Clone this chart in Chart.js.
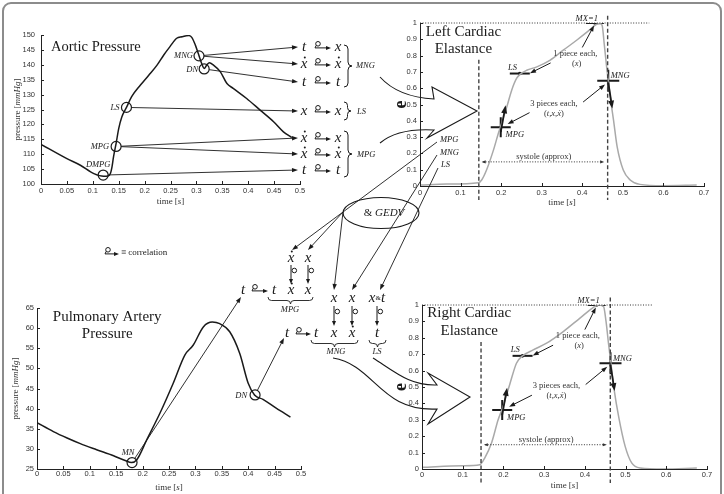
<!DOCTYPE html>
<html>
<head>
<script src="https://cdn.jsdelivr.net/npm/chart.js"></script>
<style>
  html, body { margin: 0; padding: 0; background: #fff; }
  #page { position: relative; width: 724px; height: 494px; overflow: hidden; }
  #page canvas { position: absolute; }
  #frame {
    position: absolute; left: 2px; top: 2px; width: 720px; height: 520px;
    border: 2px solid #8c8c8c; border-radius: 9px; box-sizing: border-box;
  }
</style>
</head>
<body>
<div id="page">
  <div id="frame"></div>
  <canvas id="aortic" width="320" height="200" style="left:0px;top:20px"></canvas>
  <canvas id="pulm" width="320" height="204" style="left:0px;top:290px"></canvas>
  <canvas id="leftEl" width="340" height="215" style="left:380px;top:5px"></canvas>
  <canvas id="rightEl" width="340" height="209" style="left:380px;top:285px"></canvas>
  <canvas id="overlay" width="724" height="494" style="left:0px;top:0px"></canvas>
</div>
<script>
// ---------- data ----------
const aorticTime = [0, 0.05, 0.076, 0.102, 0.121, 0.129, 0.134, 0.137, 0.14, 0.145, 0.15, 0.156, 0.165,
  0.175, 0.192, 0.208, 0.224, 0.237, 0.249, 0.262, 0.272, 0.285, 0.291, 0.298, 0.304, 0.31, 0.315,
  0.32, 0.325, 0.333, 0.346, 0.359, 0.371, 0.397, 0.423, 0.449, 0.468, 0.484];
const aorticPressure = [113.3, 108.5, 106.3, 103.5, 102.6, 102.7, 103.5, 105.7, 109.1, 113.6, 118.6, 122.5, 125.7,
  129.3, 133.2, 136.5, 139.9, 143.3, 146.1, 148.9, 149.4, 149.8, 149.2, 146.6, 143.6, 140.5, 138.8,
  139.9, 140.7, 139.9, 137.7, 133.7, 132.1, 128.7, 124.8, 120.9, 117.5, 115.6];

const pulmTime = [0, 0.031, 0.057, 0.082, 0.113, 0.145, 0.167, 0.179, 0.189, 0.208, 0.233, 0.258, 0.28,
  0.296, 0.315, 0.332, 0.346, 0.365, 0.384, 0.4, 0.412, 0.428, 0.453, 0.48];
const pulmPressure = [36.5, 34.3, 32.7, 31.3, 29.8, 28.3, 27.1, 26.6, 27.3, 32.3, 38.9, 46.3, 53.3,
  55.8, 60.3, 61.5, 61.1, 59.1, 53.7, 46.3, 43.4, 42.3, 40.1, 37.9];

const leftElTime = [0, 0.066, 0.144, 0.152, 0.164, 0.181, 0.193, 0.201, 0.214, 0.226, 0.238, 0.247, 0.263,
  0.288, 0.32, 0.353, 0.386, 0.419, 0.435, 0.444, 0.449, 0.454, 0.46, 0.464, 0.47, 0.477, 0.486,
  0.501, 0.518, 0.542, 0.6, 0.682];
const leftElastance = [0.006, 0.012, 0.02, 0.037, 0.098, 0.22, 0.322, 0.384, 0.486, 0.588, 0.66, 0.686, 0.71,
  0.731, 0.771, 0.833, 0.894, 0.959, 0.992, 0.996, 0.985, 0.873, 0.73, 0.65, 0.527, 0.404, 0.24,
  0.098, 0.037, 0.01, 0.002, 0.006];

const rightElTime = [0, 0.1, 0.142, 0.154, 0.171, 0.187, 0.199, 0.216, 0.232, 0.247, 0.273, 0.306, 0.347,
  0.388, 0.421, 0.433, 0.446, 0.452, 0.458, 0.464, 0.472, 0.483, 0.499, 0.515, 0.536, 0.593, 0.675];
const rightElastance = [0.01, 0.02, 0.026, 0.067, 0.16, 0.3, 0.38, 0.52, 0.645, 0.69, 0.726, 0.767, 0.838,
  0.92, 0.986, 1.0, 0.99, 0.9, 0.767, 0.645, 0.483, 0.32, 0.138, 0.037, 0.006, 0.0, 0.006];

const pressureTimeTicks = [0, 0.05, 0.1, 0.15, 0.2, 0.25, 0.3, 0.35, 0.4, 0.45, 0.5];
const aorticTicks = [100, 105, 110, 115, 120, 125, 130, 135, 140, 145, 150];
const pulmTicks = [25, 30, 35, 40, 45, 50, 55, 60, 65];
const elTimeTicks = [0, 0.1, 0.2, 0.3, 0.4, 0.5, 0.6, 0.7];
const elTicks = [0, 0.1, 0.2, 0.3, 0.4, 0.5, 0.6, 0.7, 0.8, 0.9, 1];

// feature points on the curves
const aorticPtLabels = ['MNG', 'DN', 'LS', 'MPG', 'DMPG'];
const aorticPtTime = [0.305, 0.315, 0.165, 0.145, 0.12];
const aorticPtValue = [143, 138.6, 125.7, 112.6, 103];
const pulmPtLabels = ['MN', 'DN'];
const pulmPtTime = [0.18, 0.413];
const pulmPtValue = [26.6, 43.4];
const elPtLabels = ['MPG', 'LS', 'MX=1', 'MNG'];
const leftElPtTime = [0.199, 0.246, 0.431, 0.464];
const leftElPtValue = [0.36, 0.69, 1, 0.645];
const rightElPtTime = [0.197, 0.247, 0.429, 0.463];
const rightElPtValue = [0.36, 0.69, 1, 0.645];

// ---------- helpers ----------
const SERIF = '"Liberation Serif", "DejaVu Serif", serif';
const SANS = '"Liberation Sans", Arial, sans-serif';
const INK = '#1a1a1a';

function pts(xs, ys) { return xs.map((x, i) => ({ x: x, y: ys[i] })); }

function rich(ctx, parts, x, y, align) {
  let w = 0;
  parts.forEach(p => { ctx.font = p[1]; w += ctx.measureText(p[0]).width; });
  let cx = align === 'center' ? x - w / 2 : (align === 'right' ? x - w : x);
  ctx.textAlign = 'left';
  ctx.textBaseline = 'middle';
  parts.forEach(p => { ctx.font = p[1]; ctx.fillText(p[0], cx, y); cx += ctx.measureText(p[0]).width; });
}

function head(ctx, x, y, ang, len, w) {
  len = len || 6; w = w || 2.4;
  ctx.beginPath();
  ctx.moveTo(x, y);
  ctx.lineTo(x - len * Math.cos(ang) + w * Math.sin(ang), y - len * Math.sin(ang) - w * Math.cos(ang));
  ctx.lineTo(x - len * Math.cos(ang) - w * Math.sin(ang), y - len * Math.sin(ang) + w * Math.cos(ang));
  ctx.closePath();
  ctx.fill();
}

function arrow(ctx, x1, y1, x2, y2, lw, len, w) {
  const ang = Math.atan2(y2 - y1, x2 - x1);
  len = len || 6;
  ctx.lineWidth = lw || 0.9;
  ctx.beginPath();
  ctx.moveTo(x1, y1);
  ctx.lineTo(x2 - (len - 1) * Math.cos(ang), y2 - (len - 1) * Math.sin(ang));
  ctx.stroke();
  head(ctx, x2, y2, ang, len, w);
}

function axis(min, max, ticks, size, pad, isX) {
  return {
    type: 'linear', min: min, max: max,
    grid: { display: false, drawTicks: false },
    border: { display: true, color: '#222', width: 1 },
    ticks: {
      color: '#333', font: { family: SANS, size: 7.5 }, padding: pad,
      autoSkip: false, maxRotation: 0, callback: v => String(v)
    },
    afterBuildTicks: s => { s.ticks = ticks.map(v => ({ value: v })); },
    afterFit: s => { if (isX) s.height = size; else s.width = size; }
  };
}

// inward MATLAB style tick marks
const inwardTicks = {
  id: 'inwardTicks',
  afterDraw(chart) {
    const { ctx, chartArea: a, scales: { x, y } } = chart;
    ctx.save();
    ctx.strokeStyle = '#222';
    ctx.lineWidth = 1;
    ctx.beginPath();
    x.ticks.forEach(t => {
      const p = Math.round(x.getPixelForValue(t.value)) + 0.5;
      ctx.moveTo(p, a.bottom); ctx.lineTo(p, a.bottom - 3);
    });
    y.ticks.forEach(t => {
      const p = Math.round(y.getPixelForValue(t.value)) + 0.5;
      ctx.moveTo(a.left, p); ctx.lineTo(a.left + 3, p);
    });
    ctx.stroke();
    ctx.restore();
  }
};

function axisTitles(xOff, yTitle, yX) {
  return {
    id: 'axisTitles',
    afterDraw(chart) {
      const { ctx, chartArea: a } = chart;
      ctx.save();
      ctx.fillStyle = '#333';
      rich(ctx, [['time [', '9px ' + SERIF], ['s', 'italic 9px ' + SERIF], [']', '9px ' + SERIF]],
        (a.left + a.right) / 2, a.bottom + xOff, 'center');
      ctx.translate(yX, (a.top + a.bottom) / 2);
      ctx.rotate(-Math.PI / 2);
      if (yTitle === 'e') {
        ctx.fillStyle = INK;
        rich(ctx, [['e', 'bold 18px ' + SERIF]], 0, 0, 'center');
      } else {
        rich(ctx, [['pressure [', '9px ' + SERIF], ['mmHg', 'italic 9px ' + SERIF], [']', '9px ' + SERIF]], 0, 0, 'center');
      }
      ctx.restore();
    }
  };
}

function chartTitle(lines, tx, ty, size) {
  return {
    id: 'chartTitle',
    afterDraw(chart) {
      const { ctx, scales: { x, y } } = chart;
      ctx.save();
      ctx.fillStyle = INK;
      lines.forEach((l, i) => rich(ctx, [[l, size + 'px ' + SERIF]], x.getPixelForValue(tx), y.getPixelForValue(ty) + i * 17.5, 'center'));
      ctx.restore();
    }
  };
}

// annotations inside the elastance panels
function elastanceDecor(pt, pv) {
  return {
    id: 'elDecor',
    afterDatasetsDraw(chart) {
      const { ctx, chartArea: a, scales: { x, y } } = chart;
      const X = v => x.getPixelForValue(v), Y = v => y.getPixelForValue(v);
      ctx.save();
      ctx.strokeStyle = '#333';
      ctx.fillStyle = '#333';
      // dotted level at 1
      ctx.setLineDash([1, 1.6]);
      ctx.lineWidth = 1;
      ctx.beginPath(); ctx.moveTo(X(0), Y(1)); ctx.lineTo(X(0.565), Y(1)); ctx.stroke();
      // systole span
      const ys = Y(0.148);
      ctx.beginPath(); ctx.moveTo(X(0.155), ys); ctx.lineTo(X(0.45), ys); ctx.stroke();
      ctx.setLineDash([]);
      head(ctx, X(0.152), ys, Math.PI, 4, 1.6);
      head(ctx, X(0.454), ys, 0, 4, 1.6);
      rich(ctx, [['systole (approx)', '8.5px ' + SERIF]], X(0.305), Y(0.178), 'center');
      // dashed systole bounds
      ctx.setLineDash([4, 2.5]);
      ctx.lineWidth = 1.4;
      ctx.strokeStyle = '#444';
      ctx.beginPath();
      ctx.moveTo(X(0.145), Y(0.775)); ctx.lineTo(X(0.145), a.bottom + 14);
      ctx.moveTo(X(0.4625), Y(1.045)); ctx.lineTo(X(0.4625), a.bottom + 14);
      ctx.stroke();
      ctx.setLineDash([]);
      ctx.strokeStyle = INK;
      ctx.fillStyle = INK;
      // bold direction arrows
      arrow(ctx, X(pt[0]), Y(pv[0] - 0.03), X(pt[0] + 0.012), Y(pv[0] + 0.135), 1.8, 8, 3);
      arrow(ctx, X(pt[3]), Y(pv[3] - 0.01), X(pt[3] + 0.01), Y(pv[3] - 0.17), 1.8, 8, 3);
      // labels
      const lab = 'italic 8.5px ' + SERIF;
      rich(ctx, [[elPtLabels[0], lab]], X(pt[0] + 0.012), Y(pv[0] - 0.045), 'left');
      rich(ctx, [[elPtLabels[1], lab]], X(pt[1] - 0.018), Y(pv[1] + 0.035), 'center');
      rich(ctx, [[elPtLabels[2], lab]], X(pt[2] - 0.02), Y(pv[2] + 0.028), 'center');
      rich(ctx, [[elPtLabels[3], lab]], X(pt[3] + 0.006), Y(pv[3] + 0.03), 'left');
      // comments
      ctx.fillStyle = '#333';
      rich(ctx, [['1 piece each,', '8.5px ' + SERIF]], X(0.383), Y(0.81), 'center');
      rich(ctx, [['(', '8.5px ' + SERIF], ['x', lab], [')', '8.5px ' + SERIF]], X(0.386), Y(0.75), 'center');
      rich(ctx, [['3 pieces each,', '8.5px ' + SERIF]], X(0.33), Y(0.506), 'center');
      rich(ctx, [['(', '8.5px ' + SERIF], ['t', lab], [',', '8.5px ' + SERIF], ['x', lab], [',', '8.5px ' + SERIF], ['\u1E8B', lab], [')', '8.5px ' + SERIF]], X(0.33), Y(0.445), 'center');
      ctx.fillStyle = INK;
      arrow(ctx, X(0.4), Y(0.85), X(pt[2] - 0.002), Y(0.985), 1, 6, 2.2);
      arrow(ctx, X(0.322), Y(0.755), X(pt[1] + 0.025), Y(pv[1] + 0.002), 1, 6, 2.2);
      arrow(ctx, X(0.27), Y(0.45), X(pt[0] + 0.017), Y(pv[0] + 0.02), 1, 6, 2.2);
      arrow(ctx, X(0.402), Y(0.515), X(pt[3] - 0.008), Y(pv[3] - 0.022), 1, 6, 2.2);
      ctx.restore();
    }
  };
}

function baseOptions(xAx, yAx, pad) {
  return {
    responsive: false, animation: false, events: [],
    layout: { padding: pad },
    plugins: { legend: { display: false }, tooltip: { enabled: false } },
    scales: { x: xAx, y: yAx }
  };
}

// ---------- charts ----------
const aorticChart = new Chart(document.getElementById('aortic'), {
  type: 'line',
  data: {
    datasets: [
      { data: pts(aorticTime, aorticPressure), borderColor: INK, borderWidth: 1.5, pointRadius: 0, cubicInterpolationMode: 'monotone' },
      { data: pts(aorticPtTime, aorticPtValue), showLine: false, pointRadius: 5, pointBorderWidth: 1.2,
        pointBorderColor: INK, pointBackgroundColor: 'rgba(0,0,0,0)' }
    ]
  },
  options: baseOptions(axis(0, 0.5, pressureTimeTicks, 30, 2.5, true), axis(100, 150, aorticTicks, 37, 6, false),
    { left: 4, right: 20, top: 15, bottom: 6 }),
  plugins: [inwardTicks, axisTitles(18, 'p', 18), chartTitle(['Aortic Pressure'], 0.106, 146, 14.5)]
});

const pulmChart = new Chart(document.getElementById('pulm'), {
  type: 'line',
  data: {
    datasets: [
      { data: pts(pulmTime, pulmPressure), borderColor: INK, borderWidth: 1.5, pointRadius: 0, cubicInterpolationMode: 'monotone' },
      { data: pts(pulmPtTime, pulmPtValue), showLine: false, pointRadius: 5, pointBorderWidth: 1.2,
        pointBorderColor: INK, pointBackgroundColor: 'rgba(0,0,0,0)' }
    ]
  },
  options: baseOptions(axis(0, 0.5, pressureTimeTicks, 25, 0, true), axis(25, 65, pulmTicks, 34, 3, false),
    { left: 3, right: 19, top: 18, bottom: 0 }),
  plugins: [inwardTicks, axisTitles(19, 'p', 16), chartTitle(['Pulmonary Artery', 'Pressure'], 0.133, 62.8, 15)]
});

function elastanceChart(id, t, e, pt, pv, pad, xh, pad2, title, tx, ty) {
  return new Chart(document.getElementById(id), {
    type: 'line',
    data: {
      datasets: [
        { data: pts(t, e), borderColor: '#a9a9a9', borderWidth: 1.5, pointRadius: 0, cubicInterpolationMode: 'monotone' },
        { data: pts(pt, pv), showLine: false, pointStyle: ['cross', 'line', 'line', 'cross'], pointRadius: [10, 10, 9, 11],
          pointBorderWidth: 2, pointBorderColor: INK, pointBackgroundColor: INK },
        { data: pts(pt.slice(1, 3), pv.slice(1, 3)), showLine: false, pointRadius: 1.8, pointBorderWidth: 0, pointBackgroundColor: INK }
      ]
    },
    options: baseOptions(axis(0, 0.7, elTimeTicks, xh, pad2, true), axis(0, 1, elTicks, 30, 3, false), pad),
    plugins: [inwardTicks, elastanceDecor(pt, pv), axisTitles(17, 'e', 21), chartTitle(title, tx, ty, 15)]
  });
}

const leftChart = elastanceChart('leftEl', leftElTime, leftElastance, leftElPtTime, leftElPtValue,
  { left: 10, right: 16, top: 18, bottom: 0 }, 34, 2.5, ['Left Cardiac', 'Elastance'], 0.107, 0.945);
const rightChart = elastanceChart('rightEl', rightElTime, rightElastance, rightElPtTime, rightElPtValue,
  { left: 12, right: 13, top: 20, bottom: 0 }, 25, 1, ['Right Cardiac', 'Elastance'], 0.116, 0.95);

// ---------- connecting diagram ----------
function at(chart, t, v) {
  const c = chart.canvas;
  return [c.offsetLeft + chart.scales.x.getPixelForValue(t), c.offsetTop + chart.scales.y.getPixelForValue(v)];
}

const MATH = 'italic 15px ' + SERIF;
function sym(ctx, s, x, y) {
  ctx.font = MATH;
  ctx.textAlign = 'center';
  ctx.textBaseline = 'middle';
  ctx.fillText(s === 'xd' ? 'x' : s, x, y);
  if (s === 'xd') { ctx.beginPath(); ctx.arc(x + 0.8, y - 6.5, 1, 0, 2 * Math.PI); ctx.fill(); }
}
function hglyph(ctx, x1, x2, y) {
  ctx.lineWidth = 1;
  ctx.beginPath(); ctx.arc(x1 + 4, y - 3.2, 2.3, 0, 2 * Math.PI); ctx.stroke();
  ctx.beginPath(); ctx.moveTo(x1 + 2.2, y - 1.6); ctx.lineTo(x1 + 1, y + 0.9); ctx.lineTo(x2 - 4, y + 0.9); ctx.stroke();
  head(ctx, x2, y + 0.9, 0, 5, 2);
}
function vglyph(ctx, x, y1, y2) {
  ctx.lineWidth = 1;
  ctx.beginPath(); ctx.moveTo(x, y1); ctx.lineTo(x, y2 - 4); ctx.stroke();
  head(ctx, x, y2, Math.PI / 2, 5, 2);
  ctx.beginPath(); ctx.arc(x + 3.3, y1 + 5.5, 2.3, 0, 2 * Math.PI); ctx.stroke();
}
function hbrace(ctx, x1, x2, y, d) {
  const m = (x1 + x2) / 2, h = d / 2;
  ctx.lineWidth = 0.9;
  ctx.beginPath();
  ctx.moveTo(x1, y);
  ctx.quadraticCurveTo(x1, y + h, x1 + h, y + h);
  ctx.lineTo(m - h, y + h);
  ctx.quadraticCurveTo(m, y + h, m, y + d);
  ctx.quadraticCurveTo(m, y + h, m + h, y + h);
  ctx.lineTo(x2 - h, y + h);
  ctx.quadraticCurveTo(x2, y + h, x2, y);
  ctx.stroke();
}
function vbrace(ctx, x, y1, y2, d) {
  const m = (y1 + y2) / 2, h = d / 2;
  ctx.lineWidth = 1;
  ctx.beginPath();
  ctx.moveTo(x, y1);
  ctx.quadraticCurveTo(x + h, y1, x + h, y1 + h);
  ctx.lineTo(x + h, m - h);
  ctx.quadraticCurveTo(x + h, m, x + d, m);
  ctx.quadraticCurveTo(x + h, m, x + h, m + h);
  ctx.lineTo(x + h, y2 - h);
  ctx.quadraticCurveTo(x + h, y2, x, y2);
  ctx.stroke();
}

function drawOverlay() {
  const ctx = document.getElementById('overlay').getContext('2d');
  ctx.strokeStyle = INK;
  ctx.fillStyle = INK;
  const small = 'italic 8.5px ' + SERIF;

  // aortic point labels
  const A = aorticPtTime.map((t, i) => at(aorticChart, t, aorticPtValue[i]));
  rich(ctx, [['MNG', small]], A[0][0] - 6, A[0][1], 'right');
  rich(ctx, [['DN', small]], A[1][0] - 6, A[1][1] + 1, 'right');
  rich(ctx, [['LS', small]], A[2][0] - 7, A[2][1], 'right');
  rich(ctx, [['MPG', small]], A[3][0] - 7, A[3][1], 'right');
  rich(ctx, [['DMPG', small]], A[4][0] - 5, A[4][1] - 10, 'center');

  // correlation rows
  const rows = [['t', 'x'], ['xd', 'xd'], ['t', 't'], ['x', 'x'], ['xd', 'x'], ['xd', 'xd'], ['t', 't']];
  const rowY = [47, 64, 82, 111, 138, 154, 170];
  const rowSrc = [0, 0, 1, 2, 3, 3, 4];
  rows.forEach((r, i) => {
    const y = rowY[i];
    const c = A[rowSrc[i]];
    const ang = Math.atan2(y - c[1], 298 - c[0]);
    arrow(ctx, c[0] + 5 * Math.cos(ang), c[1] + 5 * Math.sin(ang), 298, y, 0.9, 6, 2.2);
    sym(ctx, r[0], 304, y);
    hglyph(ctx, 314, 331, y);
    sym(ctx, r[1], 338, y);
  });
  vbrace(ctx, 344, 45, 87, 8);
  vbrace(ctx, 344, 102, 120, 7);
  vbrace(ctx, 344, 131, 177, 8);
  rich(ctx, [['MNG', small]], 356, 66, 'left');
  rich(ctx, [['LS', small]], 357, 112, 'left');
  rich(ctx, [['MPG', small]], 357, 155, 'left');

  // curved hollow arrow into left elastance
  ctx.lineWidth = 1.1;
  ctx.beginPath();
  ctx.moveTo(380, 77); ctx.quadraticCurveTo(398, 97, 434, 99);
  ctx.lineTo(432, 87); ctx.lineTo(477, 111); ctx.lineTo(427, 138); ctx.lineTo(434, 130);
  ctx.quadraticCurveTo(398, 128, 380, 143);
  ctx.stroke();

  // left elastance feature labels and lines to the lower diagram
  rich(ctx, [['MPG', small]], 440, 140, 'left');
  rich(ctx, [['MNG', small]], 440, 153, 'left');
  rich(ctx, [['LS', small]], 441, 165, 'left');
  ctx.lineWidth = 0.9;
  ctx.beginPath(); ctx.moveTo(437, 142); ctx.lineTo(343, 212); ctx.stroke();
  arrow(ctx, 343, 212, 292, 250, 0.9, 6, 2.2);
  arrow(ctx, 343, 212, 308, 250, 0.9, 6, 2.2);
  arrow(ctx, 343, 212, 334, 290, 0.9, 6, 2.2);
  arrow(ctx, 437, 155, 352, 290, 0.9, 6, 2.2);
  arrow(ctx, 438, 168, 380, 290, 0.9, 6, 2.2);

  // GEDV ellipse
  ctx.lineWidth = 1.1;
  ctx.beginPath(); ctx.ellipse(381, 213, 38, 15.5, 0, 0, 2 * Math.PI); ctx.stroke();
  rich(ctx, [['& ', '11px ' + SERIF], ['GEDV', 'italic 11px ' + SERIF]], 384, 213, 'center');

  // legend
  hglyph(ctx, 104, 119, 253);
  rich(ctx, [['\u2261 correlation', '9px ' + SERIF]], 121, 253, 'left');

  // pulmonary labels and arrows
  const P = pulmPtTime.map((t, i) => at(pulmChart, t, pulmPtValue[i]));
  rich(ctx, [['MN', small]], P[0][0] - 4, P[0][1] - 10, 'center');
  rich(ctx, [['DN', small]], P[1][0] - 8, P[1][1] + 1, 'right');
  let ang = Math.atan2(297 - P[0][1], 241 - P[0][0]);
  arrow(ctx, P[0][0] + 5 * Math.cos(ang), P[0][1] + 5 * Math.sin(ang), 241, 297, 0.9, 6, 2.2);
  ang = Math.atan2(338 - P[1][1], 284 - P[1][0]);
  arrow(ctx, P[1][0] + 5 * Math.cos(ang), P[1][1] + 5 * Math.sin(ang), 284, 338, 0.9, 6, 2.2);

  // MPG block
  sym(ctx, 'xd', 291, 258); sym(ctx, 'x', 308, 258);
  vglyph(ctx, 291, 265, 284); vglyph(ctx, 308, 265, 284);
  sym(ctx, 't', 243, 290); hglyph(ctx, 251, 268, 290);
  sym(ctx, 't', 274, 290); sym(ctx, 'xd', 291, 290); sym(ctx, 'x', 308, 290);
  hbrace(ctx, 268, 313, 297, 7);
  rich(ctx, [['MPG', small]], 290, 310, 'center');

  // MNG / LS block
  sym(ctx, 'x', 334, 298); sym(ctx, 'x', 352, 298);
  rich(ctx, [['x', MATH], ['&', '7px ' + SERIF], ['t', MATH]], 377, 298, 'center');
  vglyph(ctx, 334, 306, 326); vglyph(ctx, 352, 306, 326); vglyph(ctx, 377, 306, 326);
  sym(ctx, 't', 287, 333); hglyph(ctx, 295, 311, 333);
  sym(ctx, 't', 316, 333); sym(ctx, 'x', 334, 333); sym(ctx, 'xd', 352, 333); sym(ctx, 't', 377, 333);
  hbrace(ctx, 311, 358, 340, 7);
  hbrace(ctx, 369, 386, 340, 7);
  rich(ctx, [['MNG', small]], 336, 352, 'center');
  rich(ctx, [['LS', small]], 377, 352, 'center');

  // curved hollow arrow into right elastance
  ctx.lineWidth = 1.1;
  ctx.beginPath();
  ctx.moveTo(373, 358); ctx.bezierCurveTo(395, 372, 410, 386, 437, 385);
  ctx.lineTo(428, 373); ctx.lineTo(470, 397); ctx.lineTo(428, 424); ctx.lineTo(437, 409);
  ctx.bezierCurveTo(380, 412, 375, 365, 333, 358);
  ctx.stroke();
}
drawOverlay();
</script>
</body>
</html>
